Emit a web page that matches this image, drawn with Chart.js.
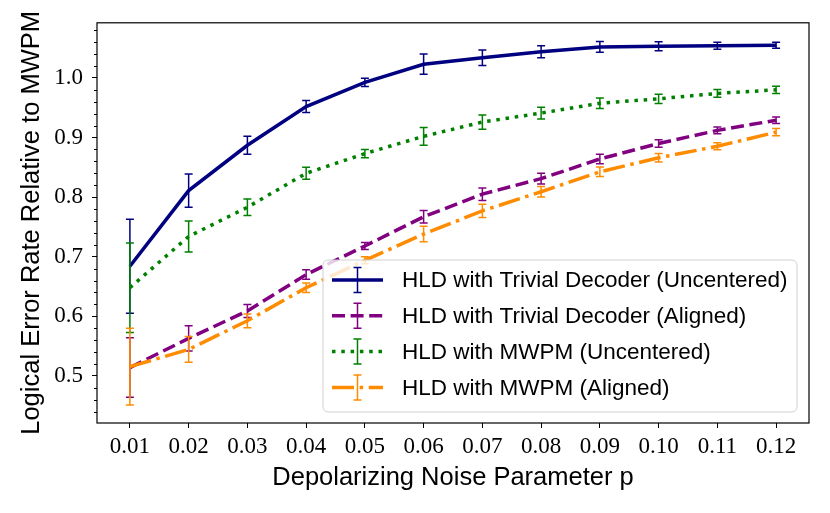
<!DOCTYPE html>
<html>
<head>
<meta charset="utf-8">
<script src="https://cdn.jsdelivr.net/npm/chart.js@4.4.1/dist/chart.umd.min.js"></script>
<style>
  html, body { margin: 0; padding: 0; background: #fff; }
  #wrap { width: 830px; height: 513px; }
</style>
</head>
<body>
<div id="wrap"><canvas id="chart"></canvas></div>
<script>
const pValues = [0.01, 0.02, 0.03, 0.04, 0.05, 0.06, 0.07, 0.08, 0.09, 0.10, 0.11, 0.12];

const trivialUncentered    = [0.684, 0.811, 0.887, 0.952, 0.9925, 1.023, 1.034, 1.044, 1.052, 1.053, 1.054, 1.055];
const trivialUncenteredErr = [0.079, 0.028, 0.015, 0.010, 0.007, 0.017, 0.013, 0.010, 0.009, 0.0075, 0.006, 0.005];

const trivialAligned    = [0.514, 0.563, 0.609, 0.670, 0.718, 0.767, 0.805, 0.831, 0.864, 0.890, 0.912, 0.929];
const trivialAlignedErr = [0.050, 0.021, 0.011, 0.008, 0.006, 0.0105, 0.0105, 0.009, 0.008, 0.0064, 0.0055, 0.0055];

const mwpmUncentered    = [0.648, 0.734, 0.783, 0.840, 0.873, 0.902, 0.926, 0.941, 0.9575, 0.965, 0.974, 0.980];
const mwpmUncenteredErr = [0.075, 0.026, 0.014, 0.010, 0.007, 0.015, 0.012, 0.010, 0.0087, 0.0078, 0.0064, 0.006];

const mwpmAligned    = [0.5155, 0.5445, 0.5925, 0.648, 0.694, 0.738, 0.777, 0.809, 0.8425, 0.866, 0.8853, 0.909];
const mwpmAlignedErr = [0.0645, 0.0215, 0.0115, 0.008, 0.006, 0.013, 0.011, 0.009, 0.008, 0.007, 0.006, 0.006];

const yMajorTicks = [0.5, 0.6, 0.7, 0.8, 0.9, 1.0];

const seriesLabels = [
    "HLD with Trivial Decoder (Uncentered)",
    "HLD with Trivial Decoder (Aligned)",
    "HLD with MWPM (Uncentered)",
    "HLD with MWPM (Aligned)"
];

const LW = 3.5;
const SANS = "'Liberation Sans'";
const SERIF = "'Liberation Serif'";

function makeSeries(label, values, errs, color, dash, order) {
    return {
        label: label,
        data: pValues.map((p, i) => ({ x: p, y: values[i] })),
        errors: errs,
        borderColor: color,
        backgroundColor: color,
        borderWidth: LW,
        borderDash: dash,
        borderCapStyle: "butt",
        pointRadius: 0,
        tension: 0,
        fill: false,
        order: order
    };
}

function drawErrorBar(ctx, x, yTop, yBot, color) {
    const cap = 4;
    ctx.save();
    ctx.strokeStyle = color;
    ctx.lineWidth = 1.5;
    ctx.setLineDash([]);
    ctx.beginPath();
    ctx.moveTo(x, yTop); ctx.lineTo(x, yBot);
    ctx.moveTo(x - cap, yTop); ctx.lineTo(x + cap, yTop);
    ctx.moveTo(x - cap, yBot); ctx.lineTo(x + cap, yBot);
    ctx.stroke();
    ctx.restore();
}

// error bars, drawn right after each line so stacking follows dataset order
const errorBarPlugin = {
    id: "errorBars",
    afterDatasetDraw(chart, args) {
        const ds = chart.data.datasets[args.index];
        const yScale = chart.scales.y;
        const ctx = chart.ctx;
        args.meta.data.forEach((pt, i) => {
            const v = ds.data[i].y, e = ds.errors[i];
            drawErrorBar(ctx, pt.x, yScale.getPixelForValue(v + e), yScale.getPixelForValue(v - e), ds.borderColor);
        });
    }
};

// frame, minor ticks and the legend box
const decorPlugin = {
    id: "decor",
    afterDraw(chart) {
        const { ctx, chartArea: a, scales: { y } } = chart;
        ctx.save();
        ctx.strokeStyle = "#000";
        ctx.lineWidth = 1;
        ctx.beginPath();
        for (let i = 21; i <= 54; i++) {
            const v = i * 0.02;
            if (i % 5 === 0 || v < y.min || v > y.max) continue;
            const py = Math.round(y.getPixelForValue(v)) + 0.5;
            ctx.moveTo(a.left, py); ctx.lineTo(a.left - 3, py);
        }
        ctx.stroke();
        ctx.lineWidth = 1.2;
        ctx.strokeRect(a.left, a.top, a.right - a.left, a.bottom - a.top);
        ctx.restore();

        // legend
        const bw = 474, bh = 152;
        const bx = a.right - 12 - bw, by = a.bottom - 11 - bh;
        ctx.save();
        ctx.beginPath();
        ctx.roundRect(bx, by, bw, bh, 5);
        ctx.fillStyle = "rgba(255,255,255,0.8)";
        ctx.fill();
        ctx.strokeStyle = "#d0d0d0";
        ctx.lineWidth = 1;
        ctx.stroke();
        chart.data.datasets.forEach((ds, i) => {
            const ry = by + 20 + i * 35.8;
            const x0 = bx + 9, x1 = bx + 60, xm = (x0 + x1) / 2;
            ctx.save();
            ctx.strokeStyle = ds.borderColor;
            ctx.lineWidth = LW;
            ctx.lineCap = "butt";
            ctx.setLineDash(ds.borderDash);
            ctx.beginPath();
            ctx.moveTo(x0, ry); ctx.lineTo(x1, ry);
            ctx.stroke();
            ctx.restore();
            drawErrorBar(ctx, xm, ry - 12.5, ry + 12.5, ds.borderColor);
            ctx.fillStyle = "#000";
            ctx.font = "22.5px " + SANS;
            ctx.textBaseline = "middle";
            ctx.fillText(ds.label, bx + 79, ry + 1);
        });
        ctx.restore();
    }
};

new Chart(document.getElementById("chart"), {
    type: "line",
    data: {
        datasets: [
            makeSeries(seriesLabels[0], trivialUncentered, trivialUncenteredErr, "#000080", [], 4),
            makeSeries(seriesLabels[1], trivialAligned, trivialAlignedErr, "#800080", [13, 5.6], 3),
            makeSeries(seriesLabels[2], mwpmUncentered, mwpmUncenteredErr, "#008000", [3.5, 5.8], 2),
            makeSeries(seriesLabels[3], mwpmAligned, mwpmAlignedErr, "#ff8c00", [22, 5.6, 3.5, 5.6], 1)
        ]
    },
    options: {
        responsive: true,
        maintainAspectRatio: false,
        animation: false,
        layout: { padding: { top: 20, right: 21, left: 0, bottom: 0 } },
        plugins: { legend: { display: false }, tooltip: { enabled: false } },
        scales: {
            x: {
                type: "linear",
                min: 0.0044,
                max: 0.1256,
                afterBuildTicks: s => { s.ticks = pValues.map(v => ({ value: v })); },
                afterFit: s => { s.height = 90; },
                grid: { drawOnChartArea: false, drawTicks: true, tickLength: 5, color: "#000" },
                border: { display: false },
                ticks: {
                    padding: 5,
                    color: "#000",
                    font: { family: SERIF, size: 23 },
                    callback: v => v.toFixed(2),
                    maxRotation: 0,
                    autoSkip: false
                },
                title: {
                    display: true,
                    text: "Depolarizing Noise Parameter p",
                    color: "#000",
                    font: { family: SANS, size: 25.5 },
                    padding: { top: 0, bottom: 20 }
                }
            },
            y: {
                type: "linear",
                min: 0.421,
                max: 1.0925,
                afterBuildTicks: s => { s.ticks = yMajorTicks.map(v => ({ value: v })); },
                afterFit: s => { s.width = 97; },
                grid: { drawOnChartArea: false, drawTicks: true, tickLength: 5, color: "#000" },
                border: { display: false },
                ticks: {
                    padding: 9,
                    color: "#000",
                    font: { family: SERIF, size: 23 },
                    callback: v => v.toFixed(1)
                },
                title: {
                    display: true,
                    text: "Logical Error Rate Relative to MWPM",
                    color: "#000",
                    font: { family: SANS, size: 25.5 },
                    padding: { top: 16.5, bottom: 0 }
                }
            }
        }
    },
    plugins: [errorBarPlugin, decorPlugin]
});
</script>
</body>
</html>
